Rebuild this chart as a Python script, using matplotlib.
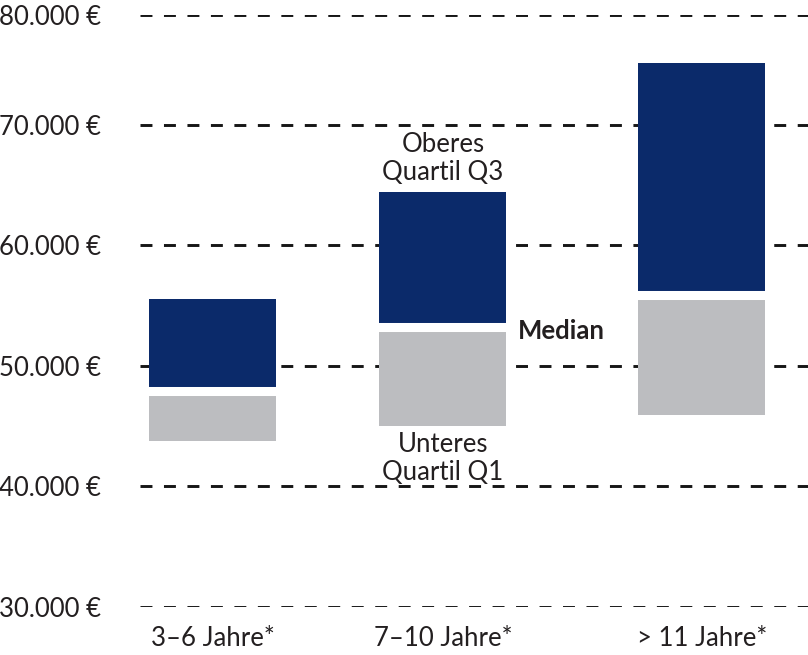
import matplotlib
matplotlib.use('Agg')
from matplotlib import pyplot as plt
import numpy as np

plt.rcParams['font.family'] = ['Lato', 'DejaVu Sans']
plt.rcParams['lines.scale_dashes'] = False

# data (Euro)
groups = ['3–6 Jahre*', '7–10 Jahre*', '> 11 Jahre*']
q1 = [43800, 45000, 45900]
median = [47900, 53200, 55900]
q3 = [55500, 64400, 75100]
yticks = [30000, 40000, 50000, 60000, 70000, 80000]

navy = '#0b2a6a'
grey = '#bcbdc0'

# slightly uneven column spacing as in the original layout
pos = np.array([0.0, 1.0, 2.126])
width = 0.552


# top band above 76.000 is drawn compressed in the original
def fwd(v):
    v = np.asarray(v, dtype=float)
    return np.where(v <= 76000, v, 76000 + (v - 76000) * 0.772)


def inv(u):
    u = np.asarray(u, dtype=float)
    return np.where(u <= 76000, u, 76000 + (u - 76000) / 0.772)


fig = plt.figure(figsize=(8.08, 6.55), dpi=100)
ax = fig.add_axes([140 / 808, 48 / 655, 668 / 808, 592 / 655])
ax.set_yscale('function', functions=(fwd, inv))
ax.set_ylim(30000, 80000)
ax.set_xlim(-0.317, 2.587)

for y in yticks:
    ax.axhline(y, color='#161616', lw=2.1, dashes=(8.6, 8.3), zorder=1)

lo = np.array(median) - np.array(q1)
hi = np.array(q3) - np.array(median)
ax.bar(pos, lo, bottom=q1, width=width, color=grey, zorder=2)
ax.bar(pos, hi, bottom=median, width=width, color=navy, zorder=2)
# white gap at the median
ax.hlines(median, pos - width / 2 - 0.01, pos + width / 2 + 0.01,
          color='white', lw=6.5, zorder=3)

ax.set_yticks(yticks)
ax.set_yticklabels(['{:,}'.format(v).replace(',', '.') + ' €' for v in yticks])
ax.set_xticks(pos)
ax.set_xticklabels(groups)
ax.tick_params(axis='y', length=0, pad=28, labelsize=18.5, labelcolor='#231f20')
ax.tick_params(axis='x', length=0, pad=14, labelsize=18.5, labelcolor='#231f20')
ax.yaxis.set_minor_locator(matplotlib.ticker.NullLocator())
for s in ax.spines.values():
    s.set_visible(False)

ax.annotate('Oberes\nQuartil Q3', (pos[1], q3[1]), xytext=(0, 5),
            textcoords='offset points', ha='center', va='bottom',
            fontsize=18.5, color='#231f20', linespacing=1.15)
ax.annotate('Unteres\nQuartil Q1', (pos[1], q1[1]), xytext=(0, -4),
            textcoords='offset points', ha='center', va='top',
            fontsize=18.5, color='#231f20', linespacing=1.15)
ax.annotate('Median', (pos[1] + width / 2, median[1]), xytext=(8, -3),
            textcoords='offset points', ha='left', va='center',
            fontsize=18.5, fontweight='bold', color='#231f20')

fig.savefig('out.png', dpi=100)
